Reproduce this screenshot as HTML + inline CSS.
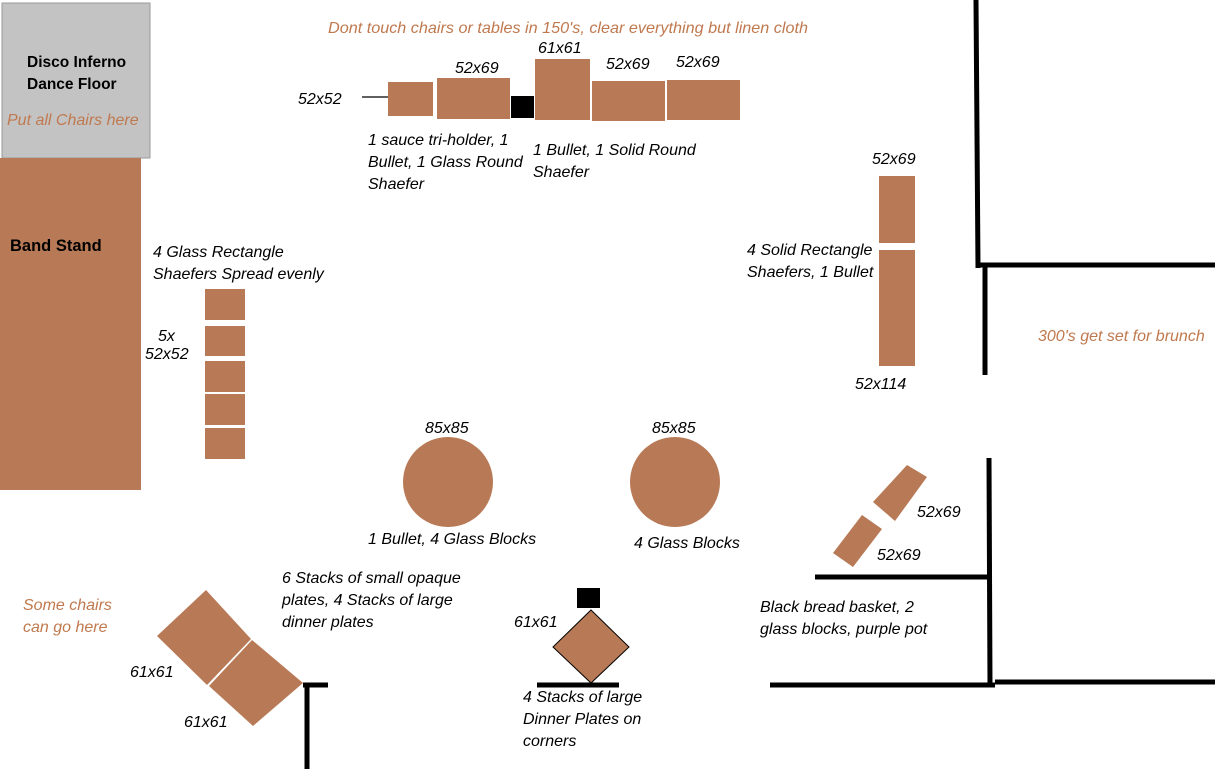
<!DOCTYPE html>
<html><head><meta charset="utf-8"><style>
html,body{margin:0;padding:0;background:#fff;width:1215px;height:769px;overflow:hidden}
svg{display:block}
text{font-family:"Liberation Sans",sans-serif;font-size:16px;font-style:italic;fill:#000}
.o{fill:#c0794f}
.b{font-style:normal;font-weight:bold;font-size:15.5px}
</style></head><body>
<svg width="1215" height="769" viewBox="0 0 1215 769">
<g fill="#b87a56">
<rect x="2" y="3" width="148" height="155" fill="#c3c3c3" stroke="#9a9a9a"/>
<rect x="0" y="158" width="141" height="332"/>
<rect x="388" y="82" width="45" height="34"/>
<rect x="437" y="78" width="73" height="41"/>
<rect x="535" y="59" width="55" height="61"/>
<rect x="592" y="81" width="73" height="40"/>
<rect x="667" y="80" width="73" height="40"/>
<rect x="879" y="176" width="36" height="67"/>
<rect x="879" y="250" width="36" height="116"/>
<rect x="205" y="289" width="40" height="31"/>
<rect x="205" y="326" width="40" height="30"/>
<rect x="205" y="361" width="40" height="31"/>
<rect x="205" y="394" width="40" height="31"/>
<rect x="205" y="428" width="40" height="31"/>
<circle cx="448" cy="482" r="45"/>
<circle cx="675" cy="482" r="45"/>
<polygon points="873,502 907,465 927,477 895,521"/>
<polygon points="833,553 862,515 882,529 853,567"/>
<polygon points="157,636 206,590 251,639 207,685"/>
<polygon points="209,686 252,640 303,683 253,726"/>
<polygon points="591,610 629,647 591,683 553,647" stroke="#000" stroke-width="1"/>
</g>
<rect x="511" y="96" width="23" height="22" fill="#000"/>
<rect x="577" y="588" width="23" height="20" fill="#000"/>
<line x1="362" y1="97" x2="388" y2="97" stroke="#000" stroke-width="1.3"/>
<g stroke="#000" stroke-width="5" fill="none">
<line x1="976" y1="0" x2="978" y2="268"/>
<line x1="980" y1="265" x2="1215" y2="265"/>
<line x1="985" y1="265" x2="985" y2="375"/>
<line x1="989" y1="458" x2="990" y2="687"/>
<line x1="815" y1="577" x2="990" y2="577"/>
<line x1="770" y1="685" x2="995" y2="685"/>
<line x1="995" y1="682" x2="1215" y2="682"/>
<line x1="303" y1="685" x2="328" y2="685"/>
<line x1="307" y1="685" x2="307" y2="769"/>
<line x1="537" y1="685" x2="619" y2="685"/>
</g>
<text class="b" x="27" y="67">Disco Inferno</text>
<text class="b" x="27" y="89">Dance Floor</text>
<text class="o" x="7" y="125">Put all Chairs here</text>
<text class="b" x="10" y="251" style="font-size:16.5px">Band Stand</text>
<text class="o" x="568" y="33" text-anchor="middle" textLength="480" lengthAdjust="spacingAndGlyphs">Dont touch chairs or tables in 150's, clear everything but linen cloth</text>
<text x="298" y="104">52x52</text>
<text x="455" y="73">52x69</text>
<text x="538" y="53">61x61</text>
<text x="606" y="69">52x69</text>
<text x="676" y="67">52x69</text>
<text x="368" y="145">1 sauce tri-holder, 1</text>
<text x="368" y="167">Bullet, 1 Glass Round</text>
<text x="368" y="189">Shaefer</text>
<text x="533" y="155">1 Bullet, 1 Solid Round</text>
<text x="533" y="177">Shaefer</text>
<text x="872" y="164">52x69</text>
<text x="747" y="255">4 Solid Rectangle</text>
<text x="747" y="277">Shaefers, 1 Bullet</text>
<text x="855" y="389">52x114</text>
<text class="o" x="1038" y="341">300's get set for brunch</text>
<text x="153" y="257">4 Glass Rectangle</text>
<text x="153" y="279">Shaefers Spread evenly</text>
<text x="158" y="341">5x</text>
<text x="145" y="359">52x52</text>
<text x="425" y="433">85x85</text>
<text x="652" y="433">85x85</text>
<text x="368" y="544">1 Bullet, 4 Glass Blocks</text>
<text x="634" y="548">4 Glass Blocks</text>
<text x="917" y="517">52x69</text>
<text x="877" y="560">52x69</text>
<text x="760" y="612">Black bread basket, 2</text>
<text x="760" y="634">glass blocks, purple pot</text>
<text class="o" x="23" y="610">Some chairs</text>
<text class="o" x="23" y="632">can go here</text>
<text x="130" y="677">61x61</text>
<text x="184" y="727">61x61</text>
<text x="282" y="583">6 Stacks of small opaque</text>
<text x="282" y="605">plates, 4 Stacks of large</text>
<text x="282" y="627">dinner plates</text>
<text x="514" y="627">61x61</text>
<text x="523" y="702">4 Stacks of large</text>
<text x="523" y="724">Dinner Plates on</text>
<text x="523" y="746">corners</text>
</svg>
</body></html>
